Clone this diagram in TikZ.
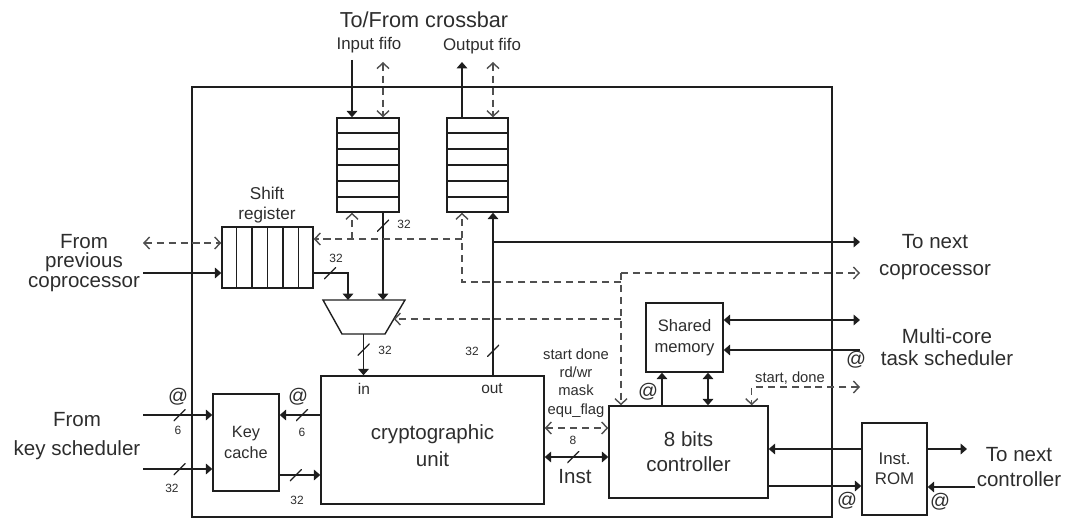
\documentclass[tikz,border=0pt]{standalone}
\usepackage{fontspec}
\setmainfont{Liberation Sans}
\usetikzlibrary{calc,arrows.meta,positioning}
\definecolor{lineDark}{RGB}{30,30,30}
\definecolor{dashGray}{RGB}{80,80,80}
\definecolor{textDark}{RGB}{45,45,45}
\tikzset{
  fh/.tip={Triangle[length=4.5pt,width=7.5pt]},
  oh/.tip={Straight Barb[length=4pt,width=8.5pt]},
  blk/.style={draw=lineDark,line width=1pt,inner sep=0pt,align=center,text=textDark},
  sol/.style={draw=lineDark,line width=1pt},
  dsh/.style={draw=dashGray,line width=1pt,dash pattern=on 5pt off 3.5pt},
  busmark/.style={inner sep=0pt,minimum width=0.3cm,minimum height=0.3cm,
    path picture={\draw[-,solid,lineDark,line width=0.9pt] (path picture bounding box.south west) -- (path picture bounding box.north east);}},
  bigtxt/.style={align=center,text=textDark,inner sep=0pt,font=\fontsize{14.6}{19}\selectfont},
  midtxt/.style={align=center,text=textDark,inner sep=0pt,font=\fontsize{12}{14.5}\selectfont},
  smltxt/.style={align=center,text=textDark,inner sep=0pt,font=\fontsize{10.5}{13}\selectfont},
  tinytxt/.style={text=textDark,inner sep=0pt,font=\fontsize{8.5}{10}\selectfont},
  attxt/.style={text=textDark,inner sep=0pt,font=\fontsize{14}{16}\selectfont}
}

\begin{document}
\begin{tikzpicture}[x=0.025cm,y=-0.025cm]
\useasboundingbox (0,0) rectangle (1065,519);

\node[blk,line width=1.3pt,minimum width=16cm,minimum height=10.75cm] (core) at (512,302) {};

\node[blk,minimum width=1.55cm,minimum height=2.35cm] (fin) at (368,165) {};
\node[blk,minimum width=1.525cm,minimum height=2.35cm] (fout) at (477.5,165) {};
\foreach \k in {1,...,5}{
  \draw[sol] ($(fin.north west)!\k/6!(fin.south west)$) -- ($(fin.north east)!\k/6!(fin.south east)$);
  \draw[sol] ($(fout.north west)!\k/6!(fout.south west)$) -- ($(fout.north east)!\k/6!(fout.south east)$);
}
\node[blk,minimum width=2.275cm,minimum height=1.525cm] (shreg) at (267.5,257.5) {};
\foreach \k in {1,...,5}
  \draw[sol] ($(shreg.north west)!\k/6!(shreg.north east)$) -- ($(shreg.south west)!\k/6!(shreg.south east)$);

\coordinate (muxtl) at (323,300);
\coordinate (muxtr) at (405,300);
\coordinate (muxbr) at (385,334);
\coordinate (muxbl) at (342,334);
\draw[sol] (muxtl) -- (muxtr) -- (muxbr) -- (muxbl) -- cycle;

\node[blk,minimum width=5.575cm,minimum height=3.2cm] (crypto) at (432.5,440) {};
\node[blk,minimum width=1.65cm,minimum height=2.425cm,font=\fontsize{11.6}{15.5}\selectfont] (kcache) at (246,442.5) {Key\\cache};
\node[blk,minimum width=3.975cm,minimum height=2.3cm,font=\fontsize{14.6}{18}\selectfont] (ctrl) at (688.5,452) {8 bits\\controller};
\node[blk,minimum width=1.925cm,minimum height=1.725cm,font=\fontsize{11.8}{15}\selectfont] (shmem) at (684.5,337.5) {Shared\\memory};
\node[blk,minimum width=1.625cm,minimum height=2.3cm,font=\fontsize{12}{14.5}\selectfont] (rom) at (894.5,469) {Inst.\\ROM};

\node[bigtxt] at ($(crypto)+(0,6)$) {cryptographic\\unit};
\node[smltxt,font=\fontsize{11}{13}\selectfont] at (364,389) {in};
\node[smltxt,font=\fontsize{11}{13}\selectfont] at (492,389) {out};

% crossbar side
\node[bigtxt,font=\fontsize{15.4}{18}\selectfont] (xbar) at (424,20) {To/From crossbar};
\node[midtxt] (lblin) at (369,45) {Input fifo};
\node[midtxt] (lblout) at (482,46) {Output fifo};
\coordinate (inTopA) at (352,60);
\coordinate (inTopB) at (383,62);
\coordinate (outTopA) at (462,62);
\coordinate (outTopB) at (493,62);
\draw[sol,-fh] (inTopA) -- (inTopA |- fin.north);
\draw[dsh,oh-oh] (inTopB) -- (inTopB |- fin.north);
\draw[sol,-fh] (outTopA |- fout.north) -- (outTopA);
\draw[dsh,oh-oh] (outTopB) -- (outTopB |- fout.north);

% data path
\coordinate (muxInA) at (348,300);
\coordinate (muxOut) at (363.5,334);
\coordinate (lftA) at (143,243);
\coordinate (lftB) at (143,273);
\node[midtxt,font=\fontsize{12.2}{14.2}\selectfont] at (267,205) {Shift\\register};
\node[bigtxt,font=\fontsize{14.6}{14}\selectfont] at (84,263) {From\\previous\\coprocessor};
\draw[dsh,oh-oh] (lftA) -- (lftA -| shreg.west);
\draw[sol,-fh] (lftB) -- (lftB -| shreg.west);
\draw[sol,-fh] (lftB -| shreg.east) -| node[busmark,pos=0.24]{} (muxInA);
\node[tinytxt] at (336,258) {32};
\draw[sol,-fh] (inTopB |- fin.south) -- node[busmark,pos=0.15]{} (inTopB |- muxtl);
\node[tinytxt] at (404,224) {32};
\draw[sol,-fh] (muxOut) -- node[busmark,pos=0.38]{} (muxOut |- crypto.north);
\node[tinytxt] at (385,350) {32};
\draw[sol,-fh] (outTopB |- crypto.north) -- node[busmark,pos=0.15]{} (outTopB |- fout.south);
\node[tinytxt] at (472,351) {32};
\coordinate (nextCop) at (860,242);
\draw[sol,-fh] (outTopB |- nextCop) -- (nextCop);
\node[bigtxt] at (935,257) {To next\\coprocessor};

% control bus
\coordinate (busTop) at (621,273);
\coordinate (nextCopD) at (860,273);
\coordinate (dj) at (462,282);
\coordinate (dk) at (462,239);
\coordinate (muxSide) at ($(muxtr)!0.56!(muxbr)$);
\draw[dsh,-oh] (busTop) -- (busTop |- ctrl.north);
\draw[dsh,-oh] (busTop) -- (nextCopD);
\draw[dsh,-oh] (busTop |- dj) -- (dj) -- (dj |- fout.south);
\draw[dsh,-oh] (dk) -- (dk -| shreg.east);
\draw[dsh,-oh] (inTopA |- dk) -- (inTopA |- fin.south);
\draw[dsh,-oh] (busTop |- muxSide) -- (muxSide);

% key scheduler
\coordinate (keyA) at (143,415);
\coordinate (keyB) at (143,469);
\coordinate (kcOut) at ($(kcache.east)+(0,32.5)$);
\node[bigtxt,font=\fontsize{14.6}{20.5}\selectfont] at (77,436) {From\\key scheduler};
\draw[sol,-fh] (keyA) -- node[busmark,pos=0.53]{} (keyA -| kcache.west);
\draw[sol,-fh] (keyB) -- node[busmark,pos=0.53]{} (keyB -| kcache.west);
\draw[sol,-fh] (keyA -| crypto.west) -- node[busmark,pos=0.45]{} (keyA -| kcache.east);
\draw[sol,-fh] (kcOut) -- node[busmark,pos=0.4]{} (kcOut -| crypto.west);
\node[attxt] at (178,397) {@};
\node[tinytxt] at (178,430) {6};
\node[tinytxt] at (172,488) {32};
\node[attxt] at (298,397) {@};
\node[tinytxt] at (302,432) {6};
\node[tinytxt] at (297,500) {32};

% crypto <-> controller
\coordinate (ccA) at ($(crypto.east)+(0,-12)$);
\coordinate (ccB) at ($(crypto.east)+(0,17)$);
\draw[dsh,oh-oh] (ccA) -- (ccA -| ctrl.west);
\draw[sol,fh-fh] (ccB) -- node[busmark,pos=0.45]{} (ccB -| ctrl.west);
\node[smltxt] at (576,383) {start done\\rd/wr\\mask\\equ\_flag};
\node[tinytxt] at (573,440) {8};
\node[bigtxt] at (575,477) {Inst};

% shared memory
\coordinate (smA) at ($(shmem.south)+(-22.5,0)$);
\coordinate (smB) at ($(shmem.south)+(23.5,0)$);
\coordinate (sdEnd) at (860,387);
\coordinate (sdDrop) at ($(ctrl.north east)+(-17,0)$);
\coordinate (mcA) at (860,320);
\coordinate (mcB) at (860,350);
\draw[sol,-fh] (smA |- ctrl.north) -- (smA);
\draw[sol,fh-fh] (smB |- ctrl.north) -- (smB);
\draw[dsh,oh-oh] (sdEnd) -| (sdDrop);
\node[smltxt] at (790,378) {start, done};
\node[attxt] at (648,392) {@};
\draw[sol,fh-fh] (mcA -| shmem.east) -- (mcA);
\draw[sol,-fh] (mcB) -- (mcB -| shmem.east);
\node[bigtxt,font=\fontsize{14.6}{15.5}\selectfont] at (947,347) {Multi-core\\task scheduler};
\node[attxt] at (856,360) {@};

% instruction rom
\coordinate (crA) at ($(rom.west)+(0,-20)$);
\coordinate (crB) at ($(rom.west)+(0,17)$);
\coordinate (tnA) at (967,449);
\coordinate (tnB) at (975,487);
\draw[sol,-fh] (crA) -- (crA -| ctrl.east);
\draw[sol,-fh] (crB -| ctrl.east) -- (crB);
\draw[sol,-fh] (tnA -| rom.east) -- (tnA);
\draw[sol,-fh] (tnB) -- (tnB -| rom.east);
\node[attxt] at (847,501) {@};
\node[attxt] at (940,502) {@};
\node[bigtxt,font=\fontsize{14.6}{18}\selectfont] at (1019,467) {To next\\controller};
\end{tikzpicture}
\end{document}
